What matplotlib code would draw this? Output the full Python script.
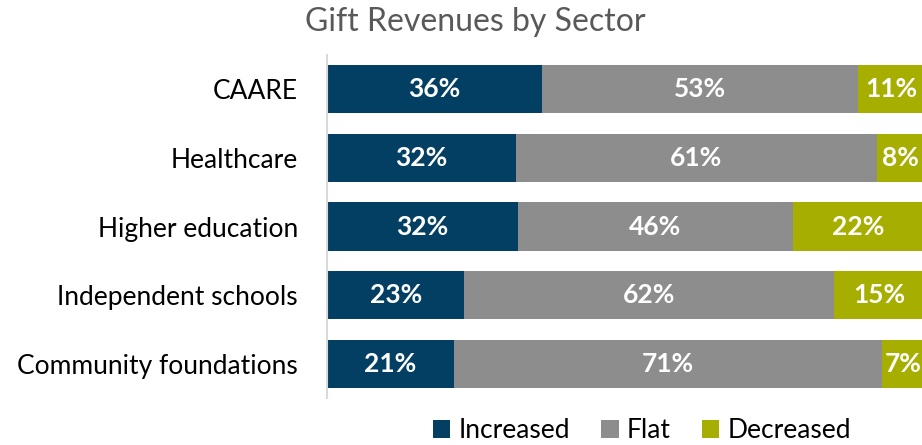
import matplotlib
matplotlib.use("Agg")
import matplotlib.pyplot as plt
import numpy as np

categories = ["CAARE", "Healthcare", "Higher education", "Independent schools", "Community foundations"]
increased = [36, 32, 32, 23, 21]
flat = [53, 61, 46, 62, 71]
decreased = [11, 8, 22, 15, 7]
series_names = ["Increased", "Flat", "Decreased"]
colors = ["#033F63", "#8C8D8C", "#A6AE00"]

plt.rcParams['font.family'] = ['Lato', 'DejaVu Sans']

fig = plt.figure(figsize=(9.22, 4.45), dpi=100)
ax = fig.add_axes([327/922, 47/445, 1 - 327/922, (398-55)/445])

data = np.array([increased, flat, decreased], dtype=float)
totals = data.sum(axis=0)
pct = data / totals * 100
y = np.arange(len(categories))
left = np.zeros(len(categories))
handles = []
for i, name in enumerate(series_names):
    b = ax.barh(y, pct[i], left=left, height=0.70, color=colors[i], label=name)
    handles.append(b)
    for j in range(len(categories)):
        ax.text(left[j] + pct[i][j] / 2, y[j], f"{int(data[i][j])}%", ha="center", va="center",
                color="white", fontsize=19, fontweight="bold")
    left += pct[i]

ax.set_xlim(0, 99.66)
ax.set_ylim(len(categories) - 0.5, -0.5)
ax.set_yticks(y)
ax.set_yticklabels(categories, fontsize=19, color="#000000")
ax.tick_params(axis="y", length=0, pad=21)
ax.set_xticks([])
for s in ["top", "right", "bottom"]:
    ax.spines[s].set_visible(False)
ax.spines["left"].set_color("#D9D9D9")
ax.spines["left"].set_linewidth(1.5)

fig.text(475/922, 1 - 22/445, "Gift Revenues by Sector", ha="center", va="center",
         fontsize=23, color="#595959")

leg = fig.legend(handles=handles, labels=series_names, loc="center", bbox_to_anchor=(642/922, 1 - 431/445),
                 ncol=3, frameon=False, fontsize=19, handlelength=0.65, handleheight=0.65,
                 handletextpad=0.3, columnspacing=1.2)

fig.savefig("out.png", dpi=100)
